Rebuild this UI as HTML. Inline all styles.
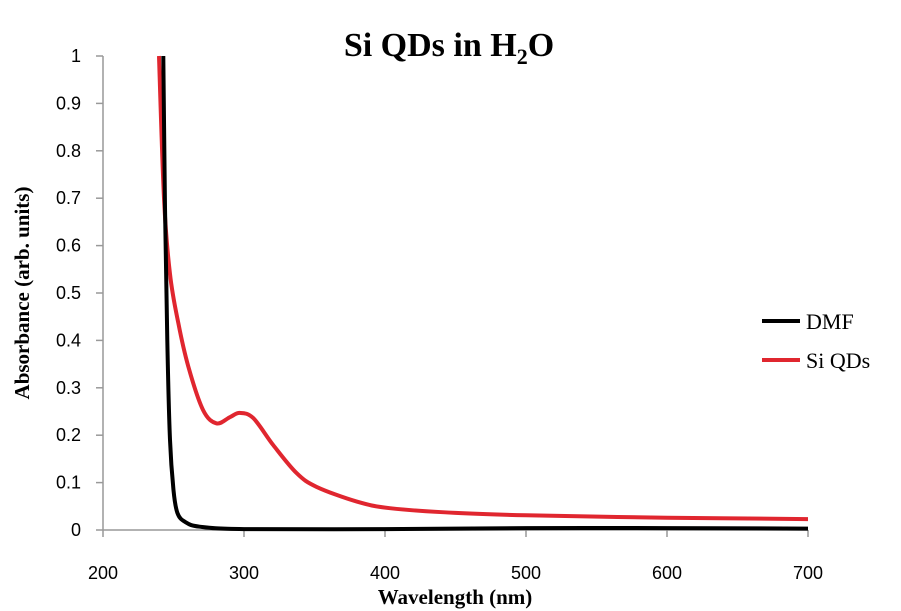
<!DOCTYPE html>
<html><head><meta charset="utf-8"><style>
body{margin:0;background:#fff}
svg{display:block}
</style></head><body>
<svg width="901" height="611" viewBox="0 0 901 611" xmlns="http://www.w3.org/2000/svg">
<text x="449" y="56" text-anchor="middle" font-family="Liberation Serif, serif" font-weight="bold" font-size="34">Si QDs in H<tspan font-size="22" dy="8">2</tspan><tspan dy="-8">O</tspan></text>
<g id="axes"></g>
<g id="series"></g>
<text x="455" y="604" text-anchor="middle" font-family="Liberation Serif, serif" font-weight="bold" font-size="21">Wavelength (nm)</text>
<text transform="translate(29,293) rotate(-90)" text-anchor="middle" font-family="Liberation Serif, serif" font-weight="bold" font-size="21">Absorbance (arb. units)</text>
<g>
<line x1="762" y1="321" x2="800" y2="321" stroke="#000" stroke-width="4"/>
<text x="806" y="329" font-family="Liberation Serif, serif" font-size="22">DMF</text>
<line x1="762" y1="360" x2="800" y2="360" stroke="#e0262f" stroke-width="4"/>
<text x="806" y="368" font-family="Liberation Serif, serif" font-size="22">Si QDs</text>
</g>
</svg>
<script>
const xTicks=[200,300,400,500,600,700];
const yTicks=[0,0.1,0.2,0.3,0.4,0.5,0.6,0.7,0.8,0.9,1];
const yTickLabels=["0","0.1","0.2","0.3","0.4","0.5","0.6","0.7","0.8","0.9","1"];
const dmfX=[242.8,244,245.6,247.5,250,252.8,258.2,268.6,300,400,500,600,700];
const dmfY=[1.0,0.68,0.40,0.19,0.084,0.036,0.017,0.007,0.002,0.002,0.004,0.004,0.003];
const qdX=[239.7,243.3,247.5,253.4,260.5,271,280.6,290,297,306.6,320.8,337.3,351.5,380,403.5,450,500,600,700];
const qdY=[1.0,0.696,0.54,0.437,0.345,0.253,0.225,0.238,0.247,0.236,0.179,0.12,0.091,0.06,0.046,0.036,0.031,0.026,0.023];
const NS="http://www.w3.org/2000/svg";
const X0=103,X1=808,Y0=530,Y1=56;
const sx=v=>X0+(v-200)/500*(X1-X0);
const sy=v=>Y0-v*(Y0-Y1);
function mk(t,a,p){const e=document.createElementNS(NS,t);for(const k in a)e.setAttribute(k,a[k]);p.appendChild(e);return e;}
const ax=document.getElementById('axes');
let l=mk('line',{x1:X0,y1:Y0,x2:X1,y2:Y0,stroke:'#999','stroke-width':1.5},ax);


l=mk('line',{x1:X0,y1:Y0,x2:X0,y2:Y1,stroke:'#999','stroke-width':1.5},ax);


xTicks.forEach(v=>{
 const t=mk('line',{x1:sx(v),y1:Y0,x2:sx(v),y2:Y0+7,stroke:'#999','stroke-width':1.5},ax);
 
 
 const tx=mk('text',{x:sx(v),y:579,'text-anchor':'middle','font-family':'Liberation Sans, sans-serif','font-size':18},ax);
 tx.textContent=v;
 
 
});
yTicks.forEach((v,i)=>{
 const t=mk('line',{x1:X0-7,y1:sy(v),x2:X0,y2:sy(v),stroke:'#999','stroke-width':1.5},ax);
 
 
 const tx=mk('text',{x:81,y:sy(v)+6,'text-anchor':'end','font-family':'Liberation Sans, sans-serif','font-size':18},ax);
 tx.textContent=yTickLabels[i];
 
 
});
const sr=document.getElementById('series');
function path(xs,ys){
 const P=xs.map((x,i)=>[sx(x),sy(ys[i])]);
 let d='M'+P[0][0].toFixed(1)+','+P[0][1].toFixed(1);
 for(let i=0;i<P.length-1;i++){
  const p0=P[Math.max(0,i-1)],p1=P[i],p2=P[i+1],p3=P[Math.min(P.length-1,i+2)];
  const c1=[p1[0]+(p2[0]-p0[0])/6,p1[1]+(p2[1]-p0[1])/6];
  const c2=[p2[0]-(p3[0]-p1[0])/6,p2[1]-(p3[1]-p1[1])/6];
  d+='C'+c1.map(v=>v.toFixed(1))+' '+c2.map(v=>v.toFixed(1))+' '+p2.map(v=>v.toFixed(1));
 }
 return d;
}
let p=mk('path',{d:path(qdX,qdY),fill:'none',stroke:'#e0262f','stroke-width':4,'stroke-linejoin':'round'},sr);


p=mk('path',{d:path(dmfX,dmfY),fill:'none',stroke:'#000','stroke-width':4,'stroke-linejoin':'round'},sr);


</script>
</body></html>
